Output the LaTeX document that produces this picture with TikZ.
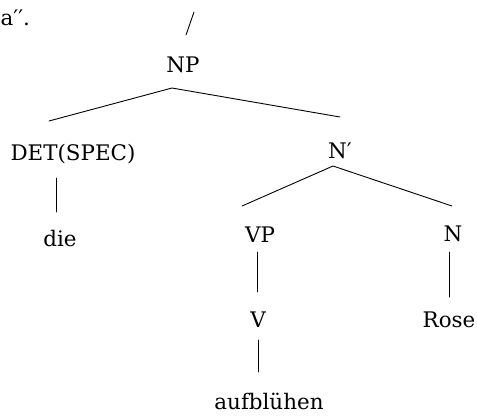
\documentclass[tikz,border=0pt]{standalone}
\usepackage{fontspec}
\setmainfont{DejaVu Serif}
\begin{document}
\begin{tikzpicture}[x=1bp,y=-1bp,
  lbl/.style={anchor=base,inner sep=0pt,font=\fontsize{21.5}{25}\selectfont},
  branch/.style={line width=0.9bp,line cap=round}]
\useasboundingbox (0,0) rectangle (477,416);
% labels
\node[lbl,anchor=base west] (prev) at (0.5,25) {a′′.};
\node[lbl] (np)   at (183,72)  {NP};
\node[lbl] (det)  at (73,160)  {DET(SPEC)};
\node[lbl] (nbar) at (340,158) {N′};
\node[lbl] (die)  at (60,246)  {die};
\node[lbl] (vp)   at (260,242) {VP};
\node[lbl] (n)    at (453,241) {N};
\node[lbl] (v)    at (258,327) {V};
\node[lbl] (rose) at (449,327) {Rose};
\node[lbl] (aufb) at (269,409) {aufblühen};
% attachment points of the branches
\coordinate (slash-a) at (194,12);
\coordinate (slash-b) at (186,35);
\coordinate (np-foot)   at (172,88);
\coordinate (det-head)  at (49,121);
\coordinate (nbar-head) at (340,117);
\coordinate (nbar-foot) at (333,166);
\coordinate (vp-head)   at (242,206);
\coordinate (n-head)    at (452,206);
\coordinate (det-foot)  at (56,178);
\coordinate (die-head)  at (56,212);
\coordinate (vp-foot)   at (257,252);
\coordinate (v-head)    at (257,292);
\coordinate (v-foot)    at (258,340);
\coordinate (aufb-head) at (258,372);
\coordinate (n-foot)    at (449,252);
\coordinate (rose-head) at (449,297);
% branches
\draw[branch] (slash-a) -- (slash-b);
\draw[branch] (det-head) -- (np-foot) -- (nbar-head);
\draw[branch] (vp-head) -- (nbar-foot) -- (n-head);
\draw[branch] (det-foot) -- (die-head);
\draw[branch] (vp-foot) -- (v-head);
\draw[branch] (v-foot) -- (aufb-head);
\draw[branch] (n-foot) -- (rose-head);
\end{tikzpicture}
\end{document}
